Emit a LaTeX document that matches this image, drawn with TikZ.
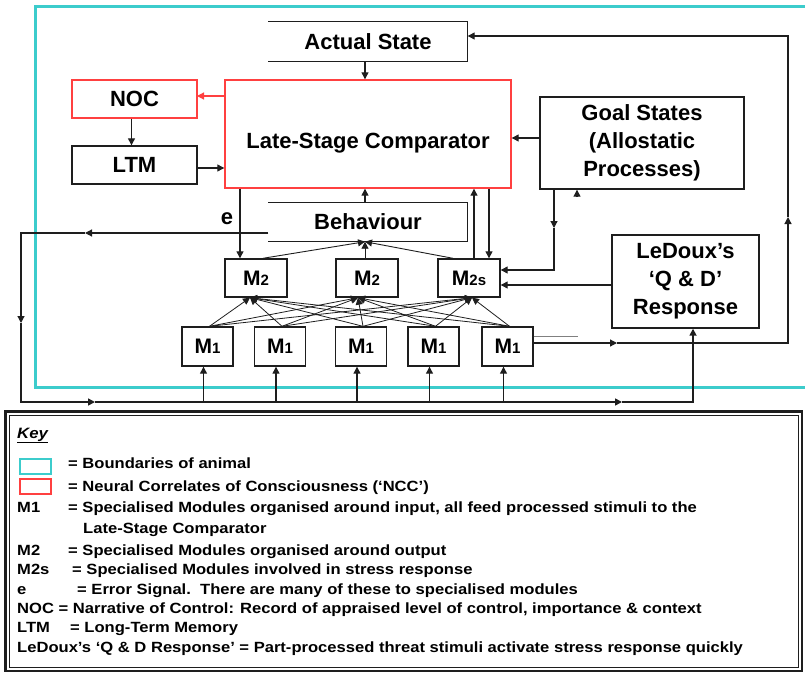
\documentclass[tikz,border=0pt]{standalone}
\usepackage{fontspec}
\setmainfont{Liberation Sans}
\newfontfamily\keyfont[FakeStretch=1.12]{Liberation Sans}
\usetikzlibrary{arrows.meta}
\definecolor{cyanb}{RGB}{60,204,204}
\definecolor{redb}{RGB}{255,64,64}
\definecolor{lk}{RGB}{30,30,30}
\newcommand\modsub[1]{{\fontsize{15}{15}\selectfont #1}}
\begin{document}
\begin{tikzpicture}[x=1pt,y=-1pt,
  big/.style={font=\bfseries\fontsize{22}{28}\selectfont},
  box/.style={draw=lk, line width=1.4pt, inner sep=0pt, align=center, big},
  rbox/.style={box, draw=redb},
  boxline/.style={draw=lk, line width=1.4pt},
  mod/.style={draw=lk, line width=1.4pt, inner sep=0pt, font=\bfseries\fontsize{21}{21}\selectfont},
  wire/.style={draw=lk, line width=1.2pt},
  arr/.style={wire, -{Triangle[length=7pt,width=7pt]}},
  keyt/.style={anchor=base west, inner sep=0pt, font=\keyfont\bfseries\fontsize{14.8}{16}\selectfont},
]
\useasboundingbox (0,0) rectangle (805,674);

% boundary of animal
\draw[cyanb, line width=3pt] (806,7) -- (35,7) -- (35,387) -- (806,387);

% main boxes
\node[box, draw=none, minimum width=198pt, minimum height=39pt] (actual) at (368,41.5) {Actual State};
\draw[boxline] (actual.north west) -- (actual.north east) -- (actual.south east) -- (actual.south west);

\node[rbox, minimum width=286pt, minimum height=108pt] (lsc) at (368,134) {};
\node[big, inner sep=0pt] (lsctext) at (368,143) {Late-Stage Comparator};
\node[rbox, minimum width=125pt, minimum height=38pt] (noc) at (134.5,99) {NOC};
\node[box, minimum width=125pt, minimum height=38pt] (ltm) at (134.5,165) {LTM};
\node[box, minimum width=204pt, minimum height=92pt] (goal) at (642,143) {Goal States\\(Allostatic\\Processes)};
\node[box, draw=none, minimum width=198pt, minimum height=38pt] (beh) at (368,222) {Behaviour};
\draw[boxline] (beh.north west) -- (beh.north east) -- (beh.south east) -- (beh.south west);
\node[box, minimum width=147pt, minimum height=93pt] (ledoux) at (685.5,281.5) {LeDoux’s\\‘Q \& D’\\Response};
\node[big, inner sep=0pt] (elabel) at (227,219) {e};

% modules
\node[mod, minimum width=62pt, minimum height=38pt] (m2a) at (256,278) {M\modsub{2}};
\node[mod, minimum width=62pt, minimum height=38pt] (m2b) at (367,278) {M\modsub{2}};
\node[mod, minimum width=62pt, minimum height=38pt] (m2s) at (469,278) {M\modsub{2s}};
\node[mod, minimum width=51pt, minimum height=39pt] (m1a) at (207.5,346.5) {M\modsub{1}};
\node[mod, minimum width=51pt, minimum height=39pt] (m1b) at (280,346.5) {M\modsub{1}};
\node[mod, minimum width=51pt, minimum height=39pt] (m1c) at (361,346.5) {M\modsub{1}};
\node[mod, minimum width=51pt, minimum height=39pt] (m1d) at (433.5,346.5) {M\modsub{1}};
\node[mod, minimum width=51pt, minimum height=39pt] (m1e) at (507.5,346.5) {M\modsub{1}};

% coordinates for routed connectors
\coordinate (nocin) at (197,96);
\coordinate (fbA) at (617,343);
\coordinate (fb1) at (788,343);
\coordinate (fbB) at (788,217);
\coordinate (fb2) at (788,36);
\coordinate (g1) at (554,228);
\coordinate (g2) at (554,270);
\coordinate (gs) at (577,197);
\coordinate (bl1) at (85,233);
\coordinate (bl2) at (21,233);
\coordinate (bl3) at (21,323);
\coordinate (bl4) at (21,402);
\coordinate (bl5) at (95,402);
\coordinate (bl6) at (622,402);
\coordinate (bl7) at (693,402);

% connectors top part
\draw[arr] ([xshift=-3pt]actual.south) -- ([xshift=-3pt]actual.south |- lsc.north);
\draw[arr, draw=redb] (lsc.west |- nocin) -- (nocin);
\draw[arr] ([xshift=-3pt]noc.south) -- ([xshift=-3pt]ltm.north);
\draw[arr] ([yshift=-3pt]ltm.east) -- ([yshift=-3pt]ltm.east -| lsc.west);
\draw[arr] ([yshift=5pt]goal.west) -- ([yshift=5pt]goal.west -| lsc.east);

% feedback loop to actual state
\draw[arr] ([yshift=3.5pt]m1e.east) -- (fbA);
\draw[arr] (fbA) -- (fb1) -- (fbB);
\draw[arr] (fbB) -- (fb2) -- (fb2 -| actual.east);
\draw[gray, line width=0.8pt] ([yshift=10.5pt]m1e.east) -- ++(44,0);

% LeDoux and goal to M2s
\draw[arr] ([yshift=-3.5pt]ledoux.west) -- ([yshift=-3.5pt]ledoux.west -| m2s.east);
\draw[arr] (goal.south -| g1) -- (g1);
\draw[arr] (g1) -- (g2) -- (g2 -| m2s.east);
\draw[arr] (gs) -- (gs |- goal.south);

% behaviour and comparator links
\draw[arr] ([xshift=-3pt]beh.north) -- ([xshift=-3pt]beh.north |- lsc.south);
\draw[arr] ([xshift=-16pt]m2a.north |- lsc.south) -- ([xshift=-16pt]m2a.north);
\draw[arr] ([xshift=5pt]m2s.north) -- ([xshift=5pt]m2s.north |- lsc.south);
\draw[arr] ([xshift=20pt]m2s.north |- lsc.south) -- ([xshift=20pt]m2s.north);

% M2 -> behaviour
\draw[arr, line width=0.9pt] ([xshift=7pt]m2a.north) -- ([xshift=-3pt]beh.south);
\draw[arr, line width=0.9pt] ([xshift=-2pt]m2b.north) -- ([xshift=-3pt]beh.south);
\draw[arr, line width=0.9pt] ([xshift=-16pt]m2s.north) -- ([xshift=-3pt]beh.south);

% M1 -> M2
\foreach \s in {m1a,m1b,m1c,m1d,m1e}{
  \foreach \t/\d in {m2a/-6,m2b/-9,m2s/3}{
    \draw[arr, line width=0.8pt] ([xshift=2pt]\s.north) -- ([xshift=\d pt]\t.south);
  }
}

% error / outer loop
\draw[arr] ([yshift=-11pt]beh.west) -- (bl1);
\draw[arr] (bl1) -- (bl2) -- (bl3);
\draw[arr, line width=1.6pt] (bl3) -- (bl4) -- (bl5);
\draw[arr, line width=1.6pt] (bl5) -- (bl6);
\draw[arr, line width=1.6pt] (bl6) -- (bl7) -- (ledoux.south -| bl7);
\foreach \m in {m1a,m1b,m1c,m1d,m1e}{
  \draw[arr] ([xshift=-4pt]\m.south |- bl4) -- ([xshift=-4pt]\m.south);
}

% key box
\draw[lk, line width=2.4pt] (5.5,411.5) rectangle (802,671);
\draw[lk, line width=0.8pt] (9.5,415.5) rectangle (798,667);
\draw[cyanb, line width=2pt] (20,459) rectangle (51,474);
\draw[redb, line width=1.6pt] (20,479) rectangle (51,494);

\node[keyt, font=\keyfont\bfseries\itshape\fontsize{15}{16}\selectfont] (kkey) at (17,438) {\underline{Key}};
\node[keyt] (k1) at (68,468) {= Boundaries of animal};
\node[keyt] (k2) at (68,491) {= Neural Correlates of Consciousness (‘NCC’)};
\node[keyt] (k3l) at (17,512) {M1};
\node[keyt] (k3) at (68,512) {= Specialised Modules organised around input, all feed processed stimuli to the};
\node[keyt] (k3b) at (83,533) {Late-Stage Comparator};
\node[keyt] (k4l) at (17,555) {M2};
\node[keyt] (k4) at (68,555) {= Specialised Modules organised around output};
\node[keyt] (k5l) at (17,574) {M2s};
\node[keyt] (k5) at (72,574) {= Specialised Modules involved in stress response};
\node[keyt] (k6l) at (17,594) {e};
\node[keyt] (k6) at (77,594) {= Error Signal.\ \ There are many of these to specialised modules};
\node[keyt] (k7) at (17,613) {NOC = Narrative of Control: Record of appraised level of control, importance \& context};
\node[keyt] (k8l) at (17,632) {LTM};
\node[keyt] (k8) at (70,632) {= Long-Term Memory};
\node[keyt] (k9) at (17,652) {LeDoux’s ‘Q \& D Response’ = Part-processed threat stimuli activate stress response quickly};
\end{tikzpicture}
\end{document}
